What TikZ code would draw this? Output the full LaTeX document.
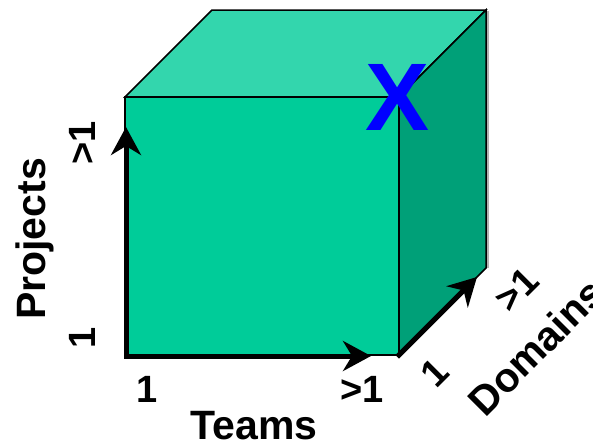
\documentclass[tikz,border=0pt]{standalone}
\usepackage{fontspec}
\setmainfont{Liberation Sans}
\usetikzlibrary{arrows.meta}
\definecolor{frontc}{RGB}{0,204,153}
\definecolor{topc}{RGB}{51,214,173}
\definecolor{sidec}{RGB}{0,160,120}
\definecolor{xblue}{RGB}{0,0,255}
\begin{document}
\begin{tikzpicture}[x=1pt,y=-1pt,
  face/.style={draw=black,line width=1.5pt,line join=miter},
  axis/.style={line width=5pt,line cap=rect,-{Stealth[length=28pt,width=30pt,inset=9pt]}},
  lab/.style={font=\fontsize{38}{38}\selectfont\bfseries,inner sep=0pt},
  axname/.style={font=\fontsize{41}{41}\selectfont\bfseries,inner sep=0pt}]
\useasboundingbox (0,0) rectangle (593,442);
% cube corners
\coordinate (FTL) at (125,97);
\coordinate (FTR) at (399,97);
\coordinate (FBL) at (125,355);
\coordinate (FBR) at (399,355);
\coordinate (BTL) at (212,10);
\coordinate (BTR) at (486,10);
\coordinate (BBR) at (486,268);
% shadow
\draw[gray!60,line width=1.2pt] (488,11) -- (488,268);
% faces
\filldraw[face,fill=topc] (FTL) -- (BTL) -- (BTR) -- (FTR) -- cycle;
\filldraw[face,fill=sidec] (FTR) -- (BTR) -- (BBR) -- (FBR) -- cycle;
\filldraw[face,fill=frontc] (FTL) -- (FTR) -- (FBR) -- (FBL) -- cycle;
% arrow tips
\coordinate (ptip) at (126,127);
\coordinate (ttip) at (371,356);
\coordinate (dtip) at (477,277);
\coordinate (origin) at (126,356);
\draw[axis] (origin) -- (ptip);
\draw[axis] (origin) -- (ttip);
\draw[axis] (FBR) -- (dtip);
% X
\node[font=\fontsize{96}{96}\selectfont\bfseries,text=xblue,inner sep=0pt] (xmark) at (398,97) {X};
% Teams
\node[lab] (t1) at (147,389) {1};
\node[lab] (t2) at (362,389) {>1};
\node[axname] (teams) at (254,426) {Teams};
% Projects
\node[lab,rotate=90] (p1) at (82,338) {1};
\node[lab,rotate=90] (p2) at (82,143) {>1};
\node[axname,rotate=90] (projects) at (35,239) {Projects};
% Domains
\node[lab,rotate=45] (d1) at (435,373) {1};
\node[lab,rotate=45] (d2) at (517,290) {>1};
\node[axname,rotate=45] (domains) at (536,347) {Domains};
\end{tikzpicture}
\end{document}
